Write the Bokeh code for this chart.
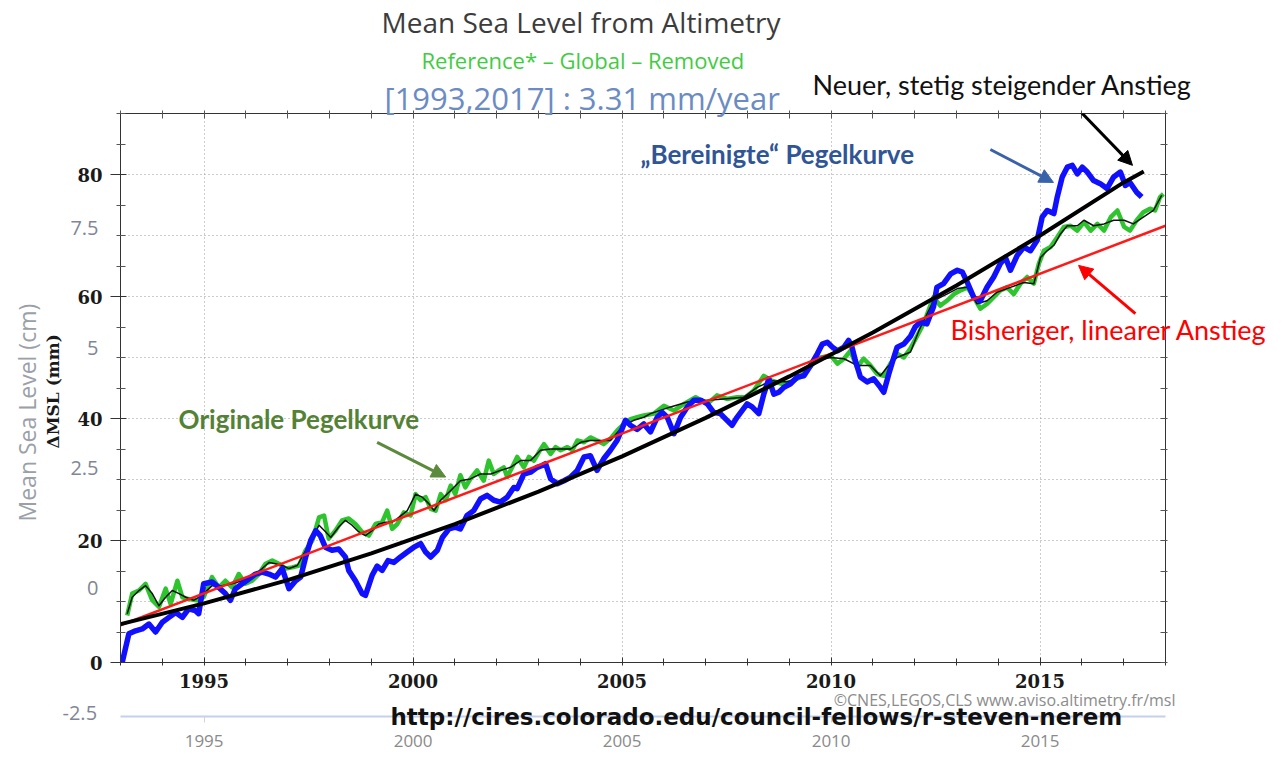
from bokeh.plotting import figure
from bokeh.models import (Range1d, LinearAxis, FixedTicker, Title, Label,
                          Arrow, NormalHead)
from bokeh.embed import file_html
from bokeh.resources import INLINE

# ---------------- data ----------------
blue_year = [1993.04, 1993.20, 1993.36, 1993.52, 1993.68, 1993.84, 1994.00, 1994.16, 1994.32, 1994.48,
             1994.63, 1994.79, 1994.87, 1994.99, 1995.19, 1995.35, 1995.51, 1995.63, 1995.75, 1995.91,
             1996.07, 1996.23, 1996.39, 1996.55, 1996.71, 1996.87, 1997.03, 1997.19, 1997.31, 1997.43,
             1997.55, 1997.67, 1997.78, 1997.90, 1998.06, 1998.22, 1998.38, 1998.46, 1998.62, 1998.78,
             1998.86, 1999.02, 1999.14, 1999.26, 1999.40, 1999.54, 1999.70, 1999.86, 2000.02, 2000.18,
             2000.30, 2000.42, 2000.58, 2000.70, 2000.86, 2001.01, 2001.13, 2001.29, 2001.45, 2001.61,
             2001.77, 2001.93, 2002.09, 2002.25, 2002.41, 2002.49, 2002.65, 2002.81, 2002.97, 2003.09,
             2003.17, 2003.29, 2003.45, 2003.61, 2003.77, 2003.93, 2004.09, 2004.24, 2004.40, 2004.56,
             2004.72, 2004.88, 2005.00, 2005.08, 2005.20, 2005.36, 2005.52, 2005.68, 2005.84, 2005.96,
             2006.08, 2006.24, 2006.40, 2006.56, 2006.72, 2006.88, 2007.04, 2007.19, 2007.35, 2007.51,
             2007.63, 2007.75, 2007.87, 2007.99, 2008.11, 2008.27, 2008.39, 2008.51, 2008.63, 2008.75,
             2008.87, 2009.03, 2009.19, 2009.35, 2009.51, 2009.67, 2009.79, 2009.91, 2010.03, 2010.15,
             2010.31, 2010.42, 2010.50, 2010.58, 2010.70, 2010.86, 2011.02, 2011.18, 2011.26, 2011.38,
             2011.50, 2011.58, 2011.74, 2011.90, 2012.01, 2012.13, 2012.29, 2012.45, 2012.53, 2012.69,
             2012.86, 2013.02, 2013.14, 2013.26, 2013.41, 2013.57, 2013.73, 2013.89, 2014.05, 2014.17,
             2014.29, 2014.45, 2014.61, 2014.77, 2014.93, 2015.05, 2015.17, 2015.33, 2015.41, 2015.53,
             2015.65, 2015.77, 2015.89, 2016.01, 2016.13, 2016.28, 2016.44, 2016.60, 2016.76, 2016.92,
             2017.04, 2017.15, 2017.31, 2017.43]
blue_mm = [0.0, 4.7, 5.2, 5.5, 6.3, 5.0, 6.6, 7.4, 8.2, 7.4,
           8.8, 8.5, 8.0, 12.9, 13.2, 12.3, 11.3, 10.2, 12.1, 12.9,
           13.7, 14.5, 14.8, 14.5, 14.0, 15.4, 12.1, 13.4, 14.0, 17.3,
           20.0, 21.6, 20.8, 18.9, 18.4, 18.6, 17.3, 15.1, 13.4, 11.3,
           11.0, 14.3, 15.8, 15.1, 16.7, 16.4, 17.3, 18.1, 18.9, 19.5,
           18.1, 17.3, 18.4, 20.5, 21.9, 22.2, 21.9, 24.1, 24.9, 26.8,
           27.4, 26.6, 26.3, 27.1, 28.7, 28.5, 30.9, 31.2, 32.0, 32.3,
           32.6, 30.1, 29.3, 29.8, 30.4, 31.5, 33.7, 33.9, 31.5, 33.4,
           34.8, 36.4, 38.3, 39.7, 38.9, 38.2, 39.1, 37.8, 40.2, 41.0,
           40.2, 37.5, 40.2, 41.9, 43.0, 43.0, 42.4, 41.0, 40.8, 39.7,
           38.9, 40.2, 41.3, 42.4, 41.9, 40.8, 44.0, 46.5, 44.0, 44.3,
           45.1, 45.7, 46.8, 47.0, 48.7, 50.6, 52.2, 52.5, 51.7, 51.1,
           51.7, 52.8, 51.7, 49.5, 46.8, 46.0, 46.5, 45.1, 44.3, 47.3,
           50.0, 51.7, 52.2, 53.5, 55.0, 55.8, 55.5, 58.3, 61.5, 62.1,
           63.7, 64.3, 64.0, 62.3, 59.9, 59.3, 61.5, 63.2, 65.4, 66.4,
           64.3, 66.7, 68.1, 67.5, 69.2, 73.0, 74.1, 73.6, 76.3, 79.6,
           81.2, 81.5, 80.1, 81.2, 80.4, 79.0, 78.5, 77.7, 79.6, 80.4,
           78.2, 78.7, 77.1, 76.3]

green_year = [1993.16, 1993.28, 1993.44, 1993.60, 1993.76, 1993.92, 1994.08, 1994.20, 1994.36, 1994.48,
              1994.63, 1994.83, 1994.99, 1995.19, 1995.35, 1995.51, 1995.67, 1995.83, 1995.99, 1996.15,
              1996.31, 1996.47, 1996.63, 1996.79, 1996.95, 1997.11, 1997.27, 1997.43, 1997.59, 1997.75,
              1997.87, 1997.98, 1998.14, 1998.30, 1998.46, 1998.62, 1998.78, 1998.94, 1999.10, 1999.26,
              1999.38, 1999.50, 1999.62, 1999.78, 1999.94, 2000.06, 2000.18, 2000.30, 2000.42, 2000.54,
              2000.66, 2000.78, 2000.90, 2001.01, 2001.13, 2001.25, 2001.37, 2001.53, 2001.69, 2001.81,
              2001.93, 2002.05, 2002.17, 2002.25, 2002.37, 2002.49, 2002.65, 2002.77, 2002.89, 2003.01,
              2003.13, 2003.29, 2003.41, 2003.53, 2003.69, 2003.81, 2003.93, 2004.09, 2004.24, 2004.40,
              2004.56, 2004.72, 2004.88, 2005.04, 2005.20, 2005.36, 2005.52, 2005.76, 2006.00, 2006.24,
              2006.48, 2006.76, 2007.04, 2007.27, 2007.51, 2007.75, 2007.95, 2008.15, 2008.39, 2008.58,
              2008.82, 2009.03, 2009.27, 2009.51, 2009.75, 2009.99, 2010.15, 2010.31, 2010.46, 2010.62,
              2010.78, 2010.94, 2011.10, 2011.26, 2011.42, 2011.58, 2011.74, 2011.90, 2012.21, 2012.45,
              2012.61, 2012.77, 2012.94, 2013.10, 2013.26, 2013.41, 2013.57, 2013.73, 2013.89, 2014.05,
              2014.21, 2014.37, 2014.53, 2014.69, 2014.85, 2014.97, 2015.09, 2015.25, 2015.41, 2015.57,
              2015.73, 2015.89, 2016.05, 2016.21, 2016.37, 2016.53, 2016.69, 2016.85, 2017.01, 2017.15,
              2017.31, 2017.47, 2017.63, 2017.75, 2017.87, 2017.95]
green_mm = [7.7, 11.3, 11.8, 12.9, 10.2, 9.1, 12.1, 9.6, 13.4, 10.7,
            10.4, 10.2, 10.7, 14.0, 12.3, 13.4, 12.3, 14.5, 12.9, 13.4,
            14.5, 16.2, 16.7, 16.2, 15.4, 15.6, 15.9, 18.4, 20.0, 23.8,
            24.1, 20.3, 21.6, 23.3, 23.6, 22.7, 21.4, 20.8, 22.7, 23.0,
            24.9, 21.9, 22.7, 24.6, 24.1, 27.6, 26.6, 27.1, 25.2, 24.9,
            27.6, 26.6, 29.0, 27.6, 30.7, 28.7, 30.1, 31.5, 29.8, 33.1,
            30.9, 31.5, 32.0, 30.4, 32.0, 33.7, 32.0, 33.7, 33.1, 34.5,
            35.8, 34.2, 35.3, 34.8, 35.3, 34.8, 36.4, 36.1, 36.9, 36.4,
            35.8, 36.7, 38.0, 39.1, 39.9, 40.2, 40.5, 40.8, 42.1, 41.3,
            42.4, 43.5, 42.4, 43.8, 43.2, 43.5, 43.5, 44.6, 47.0, 46.2,
            45.7, 46.0, 46.8, 48.7, 50.0, 50.3, 49.0, 49.8, 51.1, 48.4,
            49.8, 48.7, 47.3, 47.0, 49.0, 50.6, 50.0, 51.5, 55.5, 59.9,
            58.5, 59.3, 60.4, 61.0, 61.5, 59.9, 58.0, 58.8, 59.9, 61.0,
            61.5, 60.4, 62.1, 63.2, 62.1, 65.4, 67.5, 68.1, 69.7, 71.4,
            71.6, 70.8, 72.2, 70.8, 71.9, 70.8, 73.0, 74.1, 71.4, 70.8,
            72.5, 73.8, 74.4, 74.1, 76.3, 76.8]

smooth_year = [1993.16, 1993.28, 1993.44, 1993.60, 1993.76, 1993.92, 1994.08, 1994.24, 1994.40, 1994.56,
               1994.75, 1994.95, 1995.19, 1995.43, 1995.67, 1995.91, 1996.15, 1996.39, 1996.55, 1996.71,
               1996.87, 1997.03, 1997.23, 1997.43, 1997.59, 1997.75, 1997.91, 1998.03, 1998.22, 1998.38,
               1998.54, 1998.70, 1998.86, 1999.02, 1999.18, 1999.34, 1999.50, 1999.62, 1999.86, 2000.06,
               2000.22, 2000.38, 2000.50, 2000.66, 2000.90, 2001.13, 2001.37, 2001.61, 2001.86, 2002.09,
               2002.33, 2002.57, 2002.81, 2003.05, 2003.29, 2003.53, 2003.77, 2004.01, 2004.24, 2004.48,
               2004.72, 2005.04, 2005.28, 2005.52, 2005.68, 2006.16, 2006.56, 2007.04, 2007.43, 2007.91,
               2008.23, 2008.58, 2008.95, 2009.35, 2009.67, 2009.99, 2010.31, 2010.62, 2010.94, 2011.18,
               2011.34, 2011.58, 2011.90, 2012.10, 2012.45, 2012.77, 2013.02, 2013.26, 2013.49, 2013.73,
               2013.97, 2014.29, 2014.61, 2014.85, 2015.01, 2015.17, 2015.33, 2015.49, 2015.65, 2015.89,
               2016.05, 2016.28, 2016.53, 2016.76, 2017.01, 2017.23, 2017.47, 2017.71, 2017.91]
smooth_mm = [8.0, 10.7, 11.8, 12.6, 11.3, 9.3, 10.7, 11.8, 11.3, 10.7,
             10.2, 11.0, 12.6, 12.6, 12.9, 13.4, 14.0, 15.4, 16.4, 16.2,
             15.9, 15.4, 15.9, 18.4, 20.5, 22.5, 21.4, 20.5, 22.2, 23.3,
             22.5, 21.4, 20.8, 21.6, 22.7, 23.0, 23.0, 23.6, 24.9, 27.6,
             27.1, 26.0, 24.9, 26.6, 28.2, 29.8, 30.1, 30.9, 30.9, 31.5,
             32.0, 33.1, 33.1, 34.8, 35.0, 35.0, 35.0, 36.1, 36.4, 36.4,
             36.4, 38.9, 39.7, 40.2, 40.8, 41.9, 42.7, 43.0, 43.2, 43.5,
             45.1, 46.2, 46.0, 47.0, 49.5, 50.0, 49.8, 48.7, 48.7, 47.0,
             48.4, 50.0, 50.9, 54.4, 59.3, 60.4, 61.3, 61.5, 58.8, 59.3,
             60.7, 61.5, 62.3, 62.1, 66.4, 67.5, 68.4, 70.3, 71.6, 71.6,
             72.5, 71.6, 71.9, 72.5, 72.5, 71.9, 73.0, 74.1, 76.6]

linear_year = [1993.0, 2018.0]
linear_mm = [6.1, 71.6]

accel_year = [1993.0, 1995.0, 1997.0, 1999.0, 2001.0, 2003.0, 2005.0, 2007.0,
              2009.0, 2011.0, 2013.0, 2015.0, 2017.0, 2017.48]
accel_mm = [6.3, 9.7, 13.5, 17.9, 22.7, 28.0, 33.8, 40.1,
            46.9, 54.1, 61.8, 70.0, 78.7, 80.5]

year_ticks = [1995, 2000, 2005, 2010, 2015]
year_labels = ["1995", "2000", "2005", "2010", "2015"]
year_minor = [1993, 1994, 1996, 1997, 1998, 1999, 2001, 2002, 2003, 2004, 2006, 2007,
              2008, 2009, 2011, 2012, 2013, 2014, 2016, 2017, 2018]
year_all = [1993, 1994, 1995, 1996, 1997, 1998, 1999, 2000, 2001, 2002, 2003, 2004, 2005,
            2006, 2007, 2008, 2009, 2010, 2011, 2012, 2013, 2014, 2015, 2016, 2017, 2018]
mm_ticks = [0, 20, 40, 60, 80]
mm_labels = ["0", "20", "40", "60", "80"]
mm_minor = [5, 10, 15, 25, 30, 35, 45, 50, 55, 65, 70, 75, 85, 90]
mm_all = [0, 5, 10, 15, 20, 25, 30, 35, 40, 45, 50, 55, 60, 65, 70, 75, 80, 85, 90]
mm_grid = [10, 20, 30, 40, 50, 60, 70, 80]
cm_ticks = [-2.5, 0, 2.5, 5, 7.5]
cm_labels = ["-2.5", "0", "2.5", "5", "7.5"]

# ---------------- figure ----------------
p = figure(width=1285, height=758, title=None,
           x_range=Range1d(1993, 2018), y_range=Range1d(0, 90),
           output_backend="svg", toolbar_location=None,
           min_border_left=120, min_border_right=120,
           min_border_top=113, min_border_bottom=96,
           background_fill_color="white", border_fill_color="white")
p.extra_y_ranges = {"cm": Range1d(-1.5625, 9.875)}
p.outline_line_color = "#333333"
p.outline_line_width = 1

p.xgrid.ticker = FixedTicker(ticks=year_ticks)
p.ygrid.ticker = FixedTicker(ticks=mm_grid)
for g in (p.xgrid, p.ygrid):
    g.grid_line_color = "#9a9a9a"
    g.grid_line_dash = "1 3"
    g.grid_line_width = 1

# ---- bottom: bold year axis
ax = p.xaxis[0]
ax.ticker = FixedTicker(ticks=year_ticks, minor_ticks=year_minor)
ax.major_label_overrides = {t: s for t, s in zip(year_ticks, year_labels)}
ax.major_label_text_font = "DejaVu Serif"
ax.major_label_text_font_style = "bold"
ax.major_label_text_font_size = "18px"
ax.major_label_text_color = "#1a1a1a"
ax.major_label_standoff = 8
ax.major_tick_in = 5
ax.major_tick_out = 3
ax.minor_tick_in = 4
ax.minor_tick_out = 3
ax.axis_line_color = "#333333"
ax.major_tick_line_color = "#333333"
ax.minor_tick_line_color = "#333333"

# ---- bottom: source note, lowest cm tick of the underlying chart, and the url
p.add_layout(Title(text="©CNES,LEGOS,CLS www.aviso.altimetry.fr/msl", align="right", offset=-10,
                   vertical_align="middle", standoff=-5, text_font="Open Sans",
                   text_font_size="16px", text_font_style="normal", text_color="#8c8c8c"), "below")
p.add_layout(Title(text=cm_labels[0], align="left", offset=-58,
                   vertical_align="middle", standoff=-9, text_font="Open Sans",
                   text_font_size="20px", text_font_style="normal", text_color="#7f8796"), "below")
p.add_layout(Title(text="http://cires.colorado.edu/council-fellows/r-steven-nerem", align="left",
                   offset=270, vertical_align="middle", standoff=-29, text_font="DejaVu Sans",
                   text_font_size="23px", text_font_style="bold", text_color="#111111"), "below")

# ---- bottom: grey year axis of the underlying chart
gx = LinearAxis(ticker=FixedTicker(ticks=year_ticks, minor_ticks=[]),
                major_label_overrides={t: s for t, s in zip(year_ticks, year_labels)},
                axis_line_color="#c6cfee", axis_line_width=2,
                major_tick_line_color="#d4d4d4", major_tick_in=0, major_tick_out=6,
                minor_tick_line_color=None,
                major_label_text_font="Open Sans", major_label_text_font_size="17px",
                major_label_text_color="#8a8a8a", major_label_standoff=12)
p.add_layout(gx, "below")

# ---- left: bold mm axis
ay = p.yaxis[0]
ay.ticker = FixedTicker(ticks=mm_ticks, minor_ticks=mm_minor)
ay.major_label_overrides = {t: s for t, s in zip(mm_ticks, mm_labels)}
ay.major_label_text_font = "DejaVu Serif"
ay.major_label_text_font_style = "bold"
ay.major_label_text_font_size = "18px"
ay.major_label_text_color = "#1a1a1a"
ay.major_label_standoff = 8
ay.major_tick_in = 6
ay.major_tick_out = 10
ay.minor_tick_in = 5
ay.minor_tick_out = 4
ay.axis_line_color = "#333333"
ay.major_tick_line_color = "#333333"
ay.minor_tick_line_color = "#555555"

# ---- left: grey cm scale of the underlying chart (labels pulled in next to the mm labels)
cy = LinearAxis(y_range_name="cm",
                ticker=FixedTicker(ticks=cm_ticks[1:], minor_ticks=[]),
                major_label_overrides={t: s for t, s in zip(cm_ticks[1:], cm_labels[1:])},
                axis_line_color=None, major_tick_line_color=None, minor_tick_line_color=None,
                major_tick_in=0, major_tick_out=0, minor_tick_in=0, minor_tick_out=0,
                major_label_standoff=-24,
                major_label_text_font="Open Sans", major_label_text_font_size="20px",
                major_label_text_color="#7f8796")
p.add_layout(cy, "left")
p.add_layout(Title(text="ΔMSL (mm)", align="left", offset=214, vertical_align="middle",
                   standoff=8, text_font="DejaVu Serif", text_font_size="17px",
                   text_font_style="bold", text_color="#1a1a1a"), "left")
p.add_layout(Title(text="Mean Sea Level (cm)", align="left", offset=141, vertical_align="middle",
                   standoff=-13, text_font="Open Sans", text_font_size="23px",
                   text_font_style="normal", text_color="#9aa0a8"), "left")

# ---- right: tick marks, plus the red note as a horizontal axis label
ry = LinearAxis(ticker=FixedTicker(ticks=[], minor_ticks=mm_all),
                minor_tick_in=5, minor_tick_out=2, axis_line_color="#333333",
                minor_tick_line_color="#555555", major_label_standoff=0,
                axis_label="Bisheriger, linearer Anstieg\n ", axis_label_orientation="horizontal",
                axis_label_standoff=-217, axis_label_text_font="Lato",
                axis_label_text_font_size="27px", axis_label_text_font_style="normal",
                axis_label_text_line_height=3.55, axis_label_text_color="#ff0000")
p.add_layout(ry, "right")

# ---- top: tick marks and title block
tx = LinearAxis(ticker=FixedTicker(ticks=[], minor_ticks=year_all),
                minor_tick_in=5, minor_tick_out=3, axis_line_color="#333333",
                minor_tick_line_color="#555555", major_label_standoff=0)
p.add_layout(tx, "above")
p.add_layout(Title(text="[1993,2017] : 3.31 mm/year", align="left", offset=264,
                   vertical_align="middle", standoff=-18, text_font="Open Sans",
                   text_font_size="31px", text_font_style="normal", text_color="#6b8bc3"), "above")
p.add_layout(Title(text="Neuer, stetig steigender Anstieg", align="left", offset=692,
                   vertical_align="middle", standoff=-34, text_font="Lato",
                   text_font_size="27px", text_font_style="normal", text_color="#111111"), "above")
p.add_layout(Title(text="Reference* – Global – Removed", align="left", offset=301,
                   vertical_align="middle", standoff=16, text_font="Open Sans",
                   text_font_size="22px", text_font_style="normal", text_color="#3fcc3f"), "above")
p.add_layout(Title(text="Mean Sea Level from Altimetry", align="left", offset=261,
                   vertical_align="middle", standoff=-12, text_font="Open Sans",
                   text_font_size="28px", text_font_style="normal", text_color="#3c3c3c"), "above")

# ---------------- series ----------------
p.line(green_year, green_mm, line_color="#2ec42e", line_width=4.5, line_join="round")
p.line(smooth_year, smooth_mm, line_color="#111111", line_width=1.5, line_join="round")
p.line(blue_year, blue_mm, line_color="#1010ff", line_width=5.5, line_join="round")
p.line(linear_year, linear_mm, line_color="#ff1a1a", line_width=2.5)
p.line(accel_year, accel_mm, line_color="#000000", line_width=4, line_join="round")

# ---------------- annotations inside the plot ----------------
def arrow(x0, y0, x1, y1, color):
    p.add_layout(Arrow(end=NormalHead(size=14, fill_color=color, line_color=color),
                       x_start=x0, y_start=y0, x_end=x1, y_end=y1,
                       line_color=color, line_width=3))

arrow(1999.14, 36.1, 2000.78, 30.4, "#5b8a3c")
arrow(2013.81, 84.1, 2015.32, 78.7, "#3a62a8")
arrow(2015.87, 91.0, 2017.21, 81.5, "#000000")
arrow(2017.28, 57.2, 2015.92, 65.1, "#ff0000")

p.add_layout(Label(x=1994.39, y=40.0, text="Originale Pegelkurve", text_font="Lato",
                   text_font_style="bold", text_font_size="26px", text_color="#548235",
                   text_baseline="middle", text_align="left"))
p.add_layout(Label(x=2005.44, y=83.4, text="„Bereinigte“ Pegelkurve", text_font="Lato",
                   text_font_style="bold", text_font_size="26px", text_color="#2f5597",
                   text_baseline="middle", text_align="left"))

open("out.html", "w").write(file_html(p, INLINE))
